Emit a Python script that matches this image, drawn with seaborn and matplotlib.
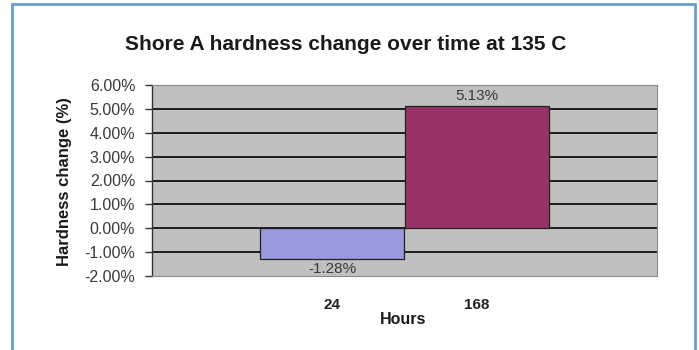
import matplotlib
matplotlib.use("Agg")
import matplotlib.pyplot as plt
from matplotlib.patches import Rectangle
from matplotlib.ticker import FuncFormatter
import seaborn as sns

# ---- data ----
hours = ["24", "168"]
change_pct = [-1.28, 5.13]
y_ticks = [-2, -1, 0, 1, 2, 3, 4, 5, 6]
bar_colors = ["#9999DD", "#993366"]
title = "Shore A hardness change over time at 135 C"
y_label = "Hardness change (%)"
x_label = "Hours"

sns.set_theme(style="white")
plt.rcParams["font.family"] = ["Liberation Sans", "DejaVu Sans"]

W, H = 699, 350
fig = plt.figure(figsize=(W / 100, H / 100), dpi=100)
fig.patch.set_facecolor("white")

# plot area in pixel coordinates
left, right, top, bottom = 152, 657, 85, 276
ax = fig.add_axes([left / W, 1 - bottom / H, (right - left) / W, (bottom - top) / H])
ax.set_facecolor("#C0C0C0")

sns.barplot(x=hours, y=change_pct, hue=hours, palette=bar_colors, width=1.0,
            saturation=1, edgecolor="#202020", linewidth=0.9, legend=False,
            ax=ax, zorder=3)

ax.set_ylim(y_ticks[0], y_ticks[-1])
ax.set_xlim(-1.25, 2.25)
ax.set_yticks(y_ticks)
ax.yaxis.set_major_formatter(FuncFormatter(lambda v, p: f"{v:.2f}%"))
ax.yaxis.grid(True, color="#111111", linewidth=1.3, zorder=1)
ax.set_axisbelow(True)
yt = ax.yaxis.get_major_ticks()
yt[0].gridline.set_visible(False)
yt[-1].gridline.set_visible(False)

for s in ["top", "right", "bottom"]:
    ax.spines[s].set_color("#8a8a8a")
    ax.spines[s].set_linewidth(0.8)
ax.spines["left"].set_color("#333333")
ax.spines["left"].set_linewidth(1.0)

ax.tick_params(axis="y", left=True, length=5, width=1, color="#333333",
               pad=7, labelsize=11.5, labelcolor="#3a3a3a")
ax.tick_params(axis="x", length=0, pad=16, labelsize=11, labelcolor="#222222")
for t in ax.get_xticklabels():
    t.set_fontweight("bold")
ax.set_xlabel("")
ax.set_ylabel("")

# value labels
for i, v in enumerate(change_pct):
    if v >= 0:
        ax.annotate(f"{v:.2f}%", (i, v), xytext=(0, 2), textcoords="offset points",
                    ha="center", va="bottom", fontsize=11, color="#3a3a3a")
    else:
        ax.annotate(f"{v:.2f}%", (i, v), xytext=(0, -2), textcoords="offset points",
                    ha="center", va="top", fontsize=11, color="#3a3a3a")

fig.text(346 / W, 1 - 45 / H, title, ha="center", va="center",
         fontsize=15, fontweight="bold", color="#1a1a1a")
fig.text(65 / W, 1 - 182 / H, y_label, ha="center", va="center", rotation=90,
         fontsize=12, fontweight="bold", color="#1a1a1a")
fig.text(403 / W, 1 - 320 / H, x_label, ha="center", va="center",
         fontsize=11.5, fontweight="bold", color="#1a1a1a")

# outer chart border
fig.patches.append(Rectangle((12 / W, -0.1), (695 - 12) / W, 1.1 - 4 / H,
                             transform=fig.transFigure, fill=False,
                             edgecolor="#6A9BD2", linewidth=2.0))

fig.savefig("out.png", dpi=100)
